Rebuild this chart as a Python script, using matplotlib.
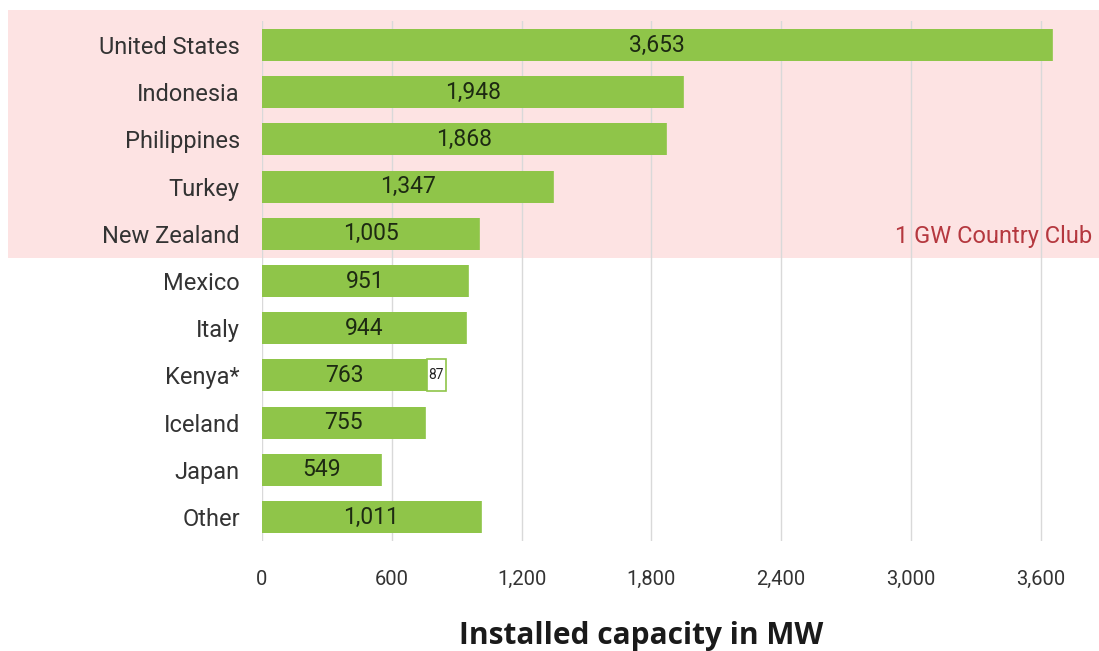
import matplotlib
matplotlib.use("Agg")
import matplotlib.pyplot as plt
from matplotlib.patches import Rectangle

countries = ["United States", "Indonesia", "Philippines", "Turkey", "New Zealand",
             "Mexico", "Italy", "Kenya*", "Iceland", "Japan", "Other"]
capacity = [3653, 1948, 1868, 1347, 1005, 951, 944, 763, 755, 549, 1011]
extra = [0, 0, 0, 0, 0, 0, 0, 87, 0, 0, 0]
value_labels = ["3,653", "1,948", "1,868", "1,347", "1,005", "951", "944", "763", "755", "549", "1,011"]
xticks = [0, 600, 1200, 1800, 2400, 3000, 3600]
xtick_labels = ["0", "600", "1,200", "1,800", "2,400", "3,000", "3,600"]

GREEN = "#8fc549"
PINK = "#fde3e3"
FONT = ["Roboto", "DejaVu Sans"]

W, H = 1099, 651
fig = plt.figure(figsize=(W / 100, H / 100), dpi=100)
fig.patch.set_facecolor("white")

ax_left, ax_right = 262 / W, 1084 / W
ax_top, ax_bottom = 1 - 21.4 / H, 1 - 540.6 / H
ax = fig.add_axes([ax_left, ax_bottom, ax_right - ax_left, ax_top - ax_bottom])
ax.set_facecolor("none")

# pink band behind the first five countries
band_bottom = 1 - 258 / H
fig.patches.append(Rectangle((8 / W, band_bottom), 1 - 8 / W, (1 - 10 / H) - band_bottom,
                             transform=fig.transFigure, facecolor=PINK, edgecolor="none",
                             zorder=-10))

ypos = list(range(len(countries)))
ax.barh(ypos, capacity, height=0.68, color=GREEN, zorder=3)
ax.barh(ypos, extra, left=capacity, height=0.68, color="white", edgecolor=GREEN,
        linewidth=1.2, zorder=3)

for y, v, lab, e in zip(ypos, capacity, value_labels, extra):
    ax.text(v / 2, y, lab, ha="center", va="center", fontsize=16.5, color="#1d2a12",
            family=FONT, zorder=4)
    if e:
        ax.text(v + e / 2, y, str(e), ha="center", va="center", fontsize=10,
                color="#222222", family=FONT, zorder=4)

ax.set_xlim(0, 3800)
ax.set_ylim(len(countries) - 0.5, -0.5)
ax.set_yticks(ypos)
ax.set_yticklabels(countries, family=FONT, fontsize=17, color="#333333")
ax.set_xticks(xticks)
ax.set_xticklabels(xtick_labels, family=FONT, fontsize=14.5, color="#333333")
ax.tick_params(axis="both", length=0)
ax.tick_params(axis="y", pad=16)
ax.tick_params(axis="x", pad=21)

for x in xticks:
    ax.axvline(x, color="#d9d9d9", linewidth=1.0, zorder=1)
for s in ax.spines.values():
    s.set_visible(False)

ax.text(1092 / W, 1 - 236 / H, "1 GW Country Club", transform=fig.transFigure,
        ha="right", va="center", fontsize=17, color="#b5383f", family=FONT)

fig.text(641 / W, 1 - 636 / H, "Installed capacity in MW", ha="center", va="center",
         fontsize=21.5, fontweight="bold", color="#1a1a1a",
         family=["Open Sans", "DejaVu Sans"])

fig.savefig("out.png", dpi=100)
